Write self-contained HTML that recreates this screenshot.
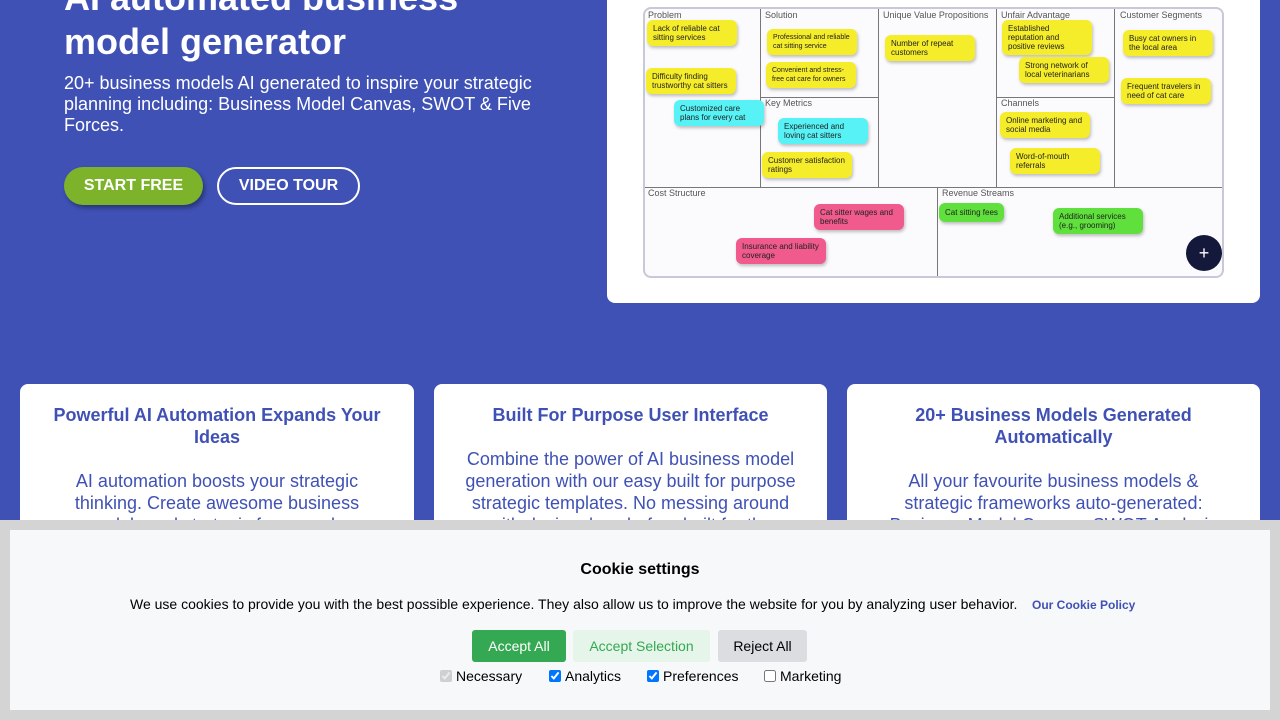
<!DOCTYPE html>
<html><head><meta charset="utf-8"><style>
*{margin:0;padding:0;box-sizing:border-box}
body{width:1280px;height:720px;overflow:hidden;background:#3f51b5;font-family:"Liberation Sans",Arial,sans-serif;position:relative}
.a{position:absolute}
h1{position:absolute;left:64px;top:-24px;color:#fff;font-size:36px;line-height:44px;font-weight:bold}
.sub{left:64px;top:73px;width:480px;color:#fff;font-size:18px;line-height:21px}
.btn{border-radius:20px;font-size:16px;font-weight:bold;color:#fff;text-align:center;line-height:38px}
.card{background:#fff;border-radius:8px}
.cv{left:643px;top:7px;width:581px;height:271px;border:2px solid #c8c8d8;border-radius:8px;background:#fbfbfd;overflow:hidden}
.ln{position:absolute;background:#777}
.lb{position:absolute;font-size:9px;color:#555}
.s{position:absolute;font-size:8px;line-height:9px;color:#222;padding:4px 6px;border-radius:6px;box-shadow:1px 2px 3px rgba(0,0,0,.25)}
.y{background:#f5ec2a}.c{background:#56f2f5}.p{background:#f05a8c}.g{background:#5fe03c}
.ft{text-align:center;color:#3f51b5;font-size:18px;line-height:22px}
.ft b{display:block;margin-bottom:22px}
.ck{position:absolute;top:668px;font-size:14px;color:#000;white-space:nowrap}
.ck input{width:12px;height:12px;vertical-align:-1px;margin-right:4px}
</style></head><body>
<h1>AI automated business<br>model generator</h1>
<div class="a sub">20+ business models AI generated to inspire your strategic planning including: Business Model Canvas, SWOT &amp; Five Forces.</div>
<div class="a btn" style="left:64px;top:167px;width:139px;height:38px;background:#7cb32a;box-shadow:2px 3px 5px rgba(0,0,0,.35)">START FREE</div>
<div class="a btn" style="left:217px;top:167px;width:143px;height:38px;border:2px solid #fff;line-height:34px">VIDEO TOUR</div>

<div class="a card" style="left:607px;top:-10px;width:653px;height:313px"></div>
<div class="a cv">
<div class="ln" style="left:0;top:178px;width:100%;height:1px"></div>
<div class="ln" style="left:115px;top:0;width:1px;height:178px"></div>
<div class="ln" style="left:233px;top:0;width:1px;height:178px"></div>
<div class="ln" style="left:351px;top:0;width:1px;height:178px"></div>
<div class="ln" style="left:469px;top:0;width:1px;height:178px"></div>
<div class="ln" style="left:115px;top:88px;width:118px;height:1px"></div>
<div class="ln" style="left:351px;top:88px;width:118px;height:1px"></div>
<div class="ln" style="left:292px;top:178px;width:1px;height:91px"></div>
<div class="lb" style="left:3px;top:1px">Problem</div>
<div class="lb" style="left:120px;top:1px">Solution</div>
<div class="lb" style="left:238px;top:1px">Unique Value Propositions</div>
<div class="lb" style="left:356px;top:1px">Unfair Advantage</div>
<div class="lb" style="left:475px;top:1px">Customer Segments</div>
<div class="lb" style="left:120px;top:89px">Key Metrics</div>
<div class="lb" style="left:356px;top:89px">Channels</div>
<div class="lb" style="left:3px;top:179px">Cost Structure</div>
<div class="lb" style="left:297px;top:179px">Revenue Streams</div>
</div>
<div class="s y" style="left:647px;top:20px;width:90px">Lack of reliable cat sitting services</div>
<div class="s y" style="left:646px;top:68px;width:90px">Difficulty finding trustworthy cat sitters</div>
<div class="s c" style="left:674px;top:100px;width:90px">Customized care plans for every cat</div>
<div class="s y" style="left:767px;top:29px;width:90px;font-size:7px">Professional and reliable cat sitting service</div>
<div class="s y" style="left:766px;top:62px;width:90px;font-size:7px">Convenient and stress-free cat care for owners</div>
<div class="s c" style="left:778px;top:118px;width:90px">Experienced and loving cat sitters</div>
<div class="s y" style="left:762px;top:152px;width:90px">Customer satisfaction ratings</div>
<div class="s y" style="left:885px;top:35px;width:90px">Number of repeat customers</div>
<div class="s y" style="left:1002px;top:20px;width:90px">Established reputation and positive reviews</div>
<div class="s y" style="left:1019px;top:57px;width:90px">Strong network of local veterinarians</div>
<div class="s y" style="left:1000px;top:112px;width:90px">Online marketing and social media</div>
<div class="s y" style="left:1010px;top:148px;width:90px">Word-of-mouth referrals</div>
<div class="s y" style="left:1123px;top:30px;width:90px">Busy cat owners in the local area</div>
<div class="s y" style="left:1121px;top:78px;width:90px">Frequent travelers in need of cat care</div>
<div class="s p" style="left:814px;top:204px;width:90px">Cat sitter wages and benefits</div>
<div class="s p" style="left:736px;top:238px;width:90px">Insurance and liability coverage</div>
<div class="s g" style="left:939px;top:203px;width:65px;padding:5px 6px">Cat sitting fees</div>
<div class="s g" style="left:1053px;top:208px;width:90px">Additional services (e.g., grooming)</div>
<div class="a" style="left:1186px;top:235px;width:36px;height:36px;border-radius:50%;background:#14193c;color:#fff;text-align:center;line-height:36px;font-size:18px">+</div>

<div class="a card" style="left:20px;top:384px;width:394px;height:200px;padding:20px 24px"><div class="ft"><b>Powerful AI Automation Expands Your Ideas</b>AI automation boosts your strategic thinking. Create awesome business models and strategic frameworks</div></div>
<div class="a card" style="left:434px;top:384px;width:393px;height:200px;padding:20px 22px"><div class="ft"><b>Built For Purpose User Interface</b>Combine the power of AI business model generation with our easy built for purpose strategic templates. No messing around with design, hassle-free built for the</div></div>
<div class="a card" style="left:847px;top:384px;width:413px;height:200px;padding:20px 30px"><div class="ft"><b>20+ Business Models Generated Automatically</b>All your favourite business models &amp; strategic frameworks auto-generated: Business Model Canvas, SWOT Analysis</div></div>

<div class="a" style="left:0;top:520px;width:1280px;height:200px;background:#d4d4d4"></div>
<div class="a" style="left:10px;top:530px;width:1260px;height:180px;background:#f7f8fa"></div>
<div class="a" style="left:0;top:561px;width:1280px;text-align:center;font-size:16px;font-weight:bold;color:#000">Cookie settings</div>
<div class="a" style="left:130px;top:596px;font-size:14px;color:#000">We use cookies to provide you with the best possible experience. They also allow us to improve the website for you by analyzing user behavior.</div>
<div class="a" style="left:1032px;top:598px;font-size:12px;font-weight:bold;color:#3f51b5">Our Cookie Policy</div>
<div class="a" style="left:472px;top:630px;width:94px;height:32px;background:#34a853;color:#fff;border-radius:3px;text-align:center;line-height:32px;font-size:14px">Accept All</div>
<div class="a" style="left:573px;top:630px;width:137px;height:32px;background:#e6f5e9;color:#34a853;border-radius:3px;text-align:center;line-height:32px;font-size:14px">Accept Selection</div>
<div class="a" style="left:718px;top:630px;width:89px;height:32px;background:#dcdde0;color:#000;border-radius:3px;text-align:center;line-height:32px;font-size:14px">Reject All</div>
<div class="ck" style="left:440px"><input type="checkbox" checked disabled>Necessary</div>
<div class="ck" style="left:549px"><input type="checkbox" checked>Analytics</div>
<div class="ck" style="left:647px"><input type="checkbox" checked>Preferences</div>
<div class="ck" style="left:764px"><input type="checkbox">Marketing</div>
</body></html>
